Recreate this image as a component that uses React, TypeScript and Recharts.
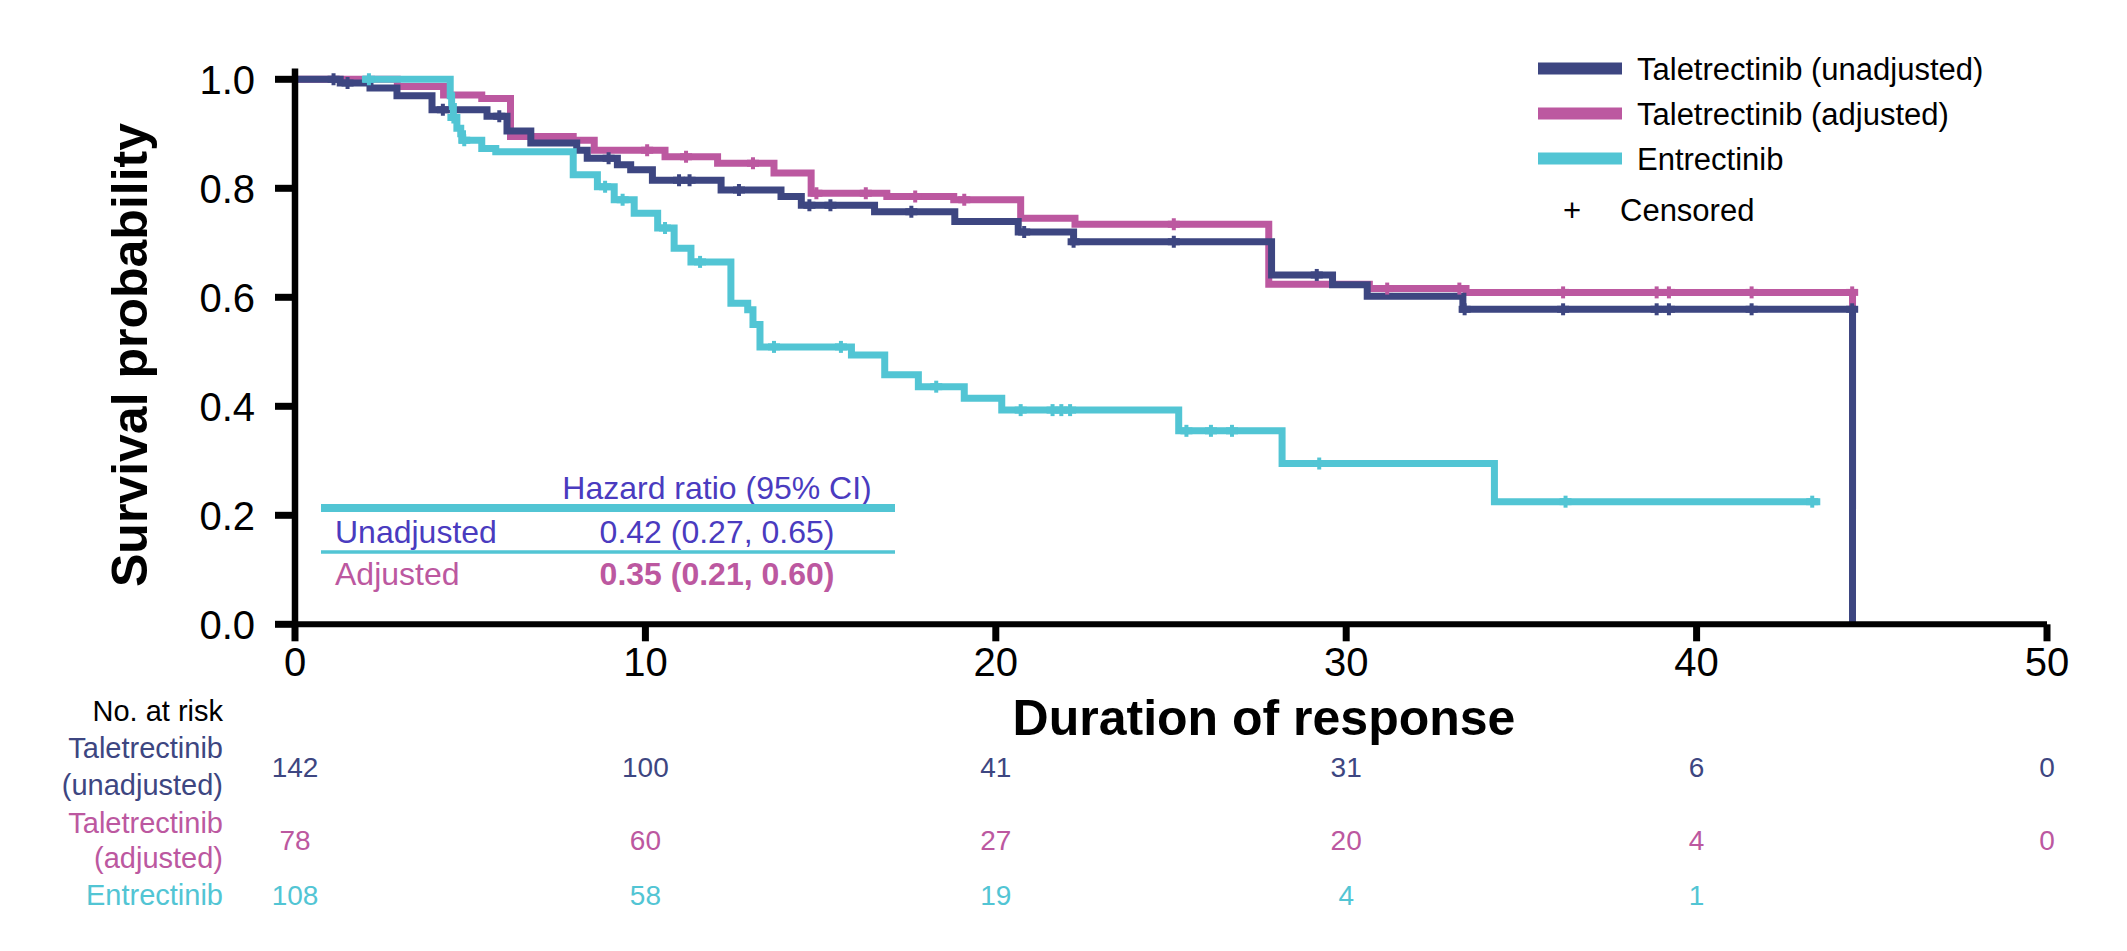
import React from "react";
import { ComposedChart, Line, Scatter, XAxis, YAxis } from "recharts";

// ---------- data ----------
const xTicks = [0, 10, 20, 30, 40, 50];
const yTicks = [0, 0.2, 0.4, 0.6, 0.8, 1.0];

// Taletrectinib (unadjusted)
const unadjT = [0, 1.29, 2.14, 2.91, 3.91, 5.48, 6.05, 6.73, 8.04, 8.34, 9.2, 9.58, 10.2, 12.16, 13.87, 14.45, 16.54, 18.83, 20.64, 22.22, 27.87, 29.61, 30.6, 33.33, 44.45];
const unadjS = [1.0, 0.993, 0.984, 0.97, 0.944, 0.932, 0.905, 0.883, 0.87, 0.855, 0.843, 0.834, 0.815, 0.797, 0.785, 0.769, 0.757, 0.739, 0.72, 0.702, 0.641, 0.623, 0.602, 0.578, 0];
const unadjCensor = [1.1, 1.5, 4.22, 5.83, 8.95, 10.96, 11.26, 12.67, 14.68, 15.28, 17.59, 20.81, 22.22, 25.08, 29.16, 33.38, 36.19, 38.86, 39.21, 41.57, 44.44];

// Taletrectinib (adjusted)
const adjT = [0, 2.92, 4.24, 5.33, 6.15, 7.94, 8.54, 10.56, 12.06, 13.67, 14.73, 16.89, 18.8, 20.71, 22.26, 27.79, 30.66, 33.42, 44.45];
const adjS = [1.0, 0.987, 0.971, 0.965, 0.895, 0.888, 0.87, 0.858, 0.846, 0.828, 0.791, 0.785, 0.779, 0.745, 0.734, 0.624, 0.616, 0.609, 0];
const adjCensor = [10.05, 11.16, 13.07, 14.88, 16.29, 17.7, 19.1, 25.08, 31.17, 33.23, 36.19, 38.86, 39.21, 41.57, 44.44];

// Entrectinib
const entT = [1.91, 4.43, 4.47, 4.52, 4.62, 4.73, 4.78, 5.33, 5.73, 7.94, 8.63, 9.11, 9.68, 10.35, 10.82, 11.3, 12.44, 12.92, 13.07, 13.27, 15.88, 16.83, 17.79, 19.1, 20.17, 25.22, 28.17, 34.23, 43.53];
const entS = [1.0, 0.97, 0.95, 0.93, 0.91, 0.9, 0.888, 0.873, 0.867, 0.825, 0.803, 0.779, 0.754, 0.727, 0.69, 0.665, 0.589, 0.577, 0.55, 0.509, 0.494, 0.458, 0.436, 0.415, 0.393, 0.355, 0.295, 0.225, 0.225];
const entCensor = [2.11, 4.52, 4.83, 8.85, 9.35, 10.56, 11.56, 13.67, 15.58, 18.3, 20.71, 21.62, 21.87, 22.12, 25.44, 26.14, 26.74, 29.23, 36.26, 43.3];

// numbers at risk (at xTicks)
const riskUnadj = ["142", "100", "41", "31", "6", "0"];
const riskAdj = ["78", "60", "27", "20", "4", "0"];
const riskEnt = ["108", "58", "19", "4", "1", ""];

const seriesNames = ["Taletrectinib (unadjusted)", "Taletrectinib (adjusted)", "Entrectinib"];

// ---------- styles ----------
const C_UNADJ = "#3d4681";
const C_ADJ = "#bc58a0";
const C_ENT = "#52c5d4";
const C_HR = "#4a3bbf";
const FONT = "'Liberation Sans', Arial, Helvetica, sans-serif";

const toPoints = (ts: number[], ss: number[]) => ts.map((t, i) => ({ t, s: ss[i] }));
const stepAt = (ts: number[], ss: number[], t: number) => {
  let v = ss[0];
  for (let i = 0; i < ts.length; i++) if (ts[i] <= t) v = ss[i];
  return v;
};
const censorPoints = (ts: number[], ss: number[], cs: number[]) => cs.map((t) => ({ t, s: stepAt(ts, ss, t) }));

const unadjData = toPoints(unadjT, unadjS);
const adjData = toPoints(adjT, adjS);
const entData = toPoints(entT, entS);
const unadjC = censorPoints(unadjT, unadjS, unadjCensor);
const adjC = censorPoints(adjT, adjS, adjCensor);
const entC = censorPoints(entT, entS, entCensor);

const censorShape = (color: string) => (props: any) => {
  const { cx, cy } = props;
  if (cx == null || cy == null) return <g />;
  return (
    <g>
      <line x1={cx} x2={cx} y1={cy - 6} y2={cy + 6} stroke={color} strokeWidth={4} />
      <line x1={cx - 6} x2={cx + 6} y1={cy} y2={cy} stroke={color} strokeWidth={7} />
    </g>
  );
};

const XTick = (props: any) => {
  const { x, y, payload } = props;
  const idx = xTicks.indexOf(payload.value);
  return (
    <g fontFamily={FONT}>
      <text x={x} y={y + 35} textAnchor="middle" fontSize={40} fill="#000">
        {payload.value}
      </text>
      <text x={x} y={y + 136} textAnchor="middle" fontSize={28} fill={C_UNADJ}>
        {riskUnadj[idx]}
      </text>
      <text x={x} y={y + 209} textAnchor="middle" fontSize={28} fill={C_ADJ}>
        {riskAdj[idx]}
      </text>
      <text x={x} y={y + 264} textAnchor="middle" fontSize={28} fill={C_ENT}>
        {riskEnt[idx]}
      </text>
    </g>
  );
};

export default function App() {
  return (
    <div style={{ position: "absolute", left: 0, top: 0, width: 2127, height: 951, background: "#fff", fontFamily: FONT }}>
      <ComposedChart
        width={2127}
        height={951}
        margin={{ top: 68.4, right: 80, bottom: 266.7, left: 0 }}
      >
        <XAxis
          type="number"
          dataKey="t"
          domain={[0, 50]}
          ticks={xTicks}
          allowDataOverflow
          height={60}
          tickSize={17}
          tickMargin={0}
          axisLine={{ stroke: "#000", strokeWidth: 6 }}
          tickLine={{ stroke: "#000", strokeWidth: 7 }}
          tick={<XTick />}
          interval={0}
        />
        <YAxis
          type="number"
          domain={[0, 1.02]}
          ticks={yTicks}
          allowDataOverflow
          width={295}
          tickSize={20}
          tickMargin={20}
          tickFormatter={(v: number) => v.toFixed(1)}
          axisLine={{ stroke: "#000", strokeWidth: 6.5 }}
          tickLine={{ stroke: "#000", strokeWidth: 7 }}
          tick={{ fontSize: 40, fill: "#000", fontFamily: FONT }}
          interval={0}
        />
        <Line data={adjData} dataKey="s" name={seriesNames[1]} type="stepAfter" stroke={C_ADJ} strokeWidth={7} dot={false} activeDot={false} isAnimationActive={false} strokeLinecap="butt" />
        <Scatter data={adjC} dataKey="s" isAnimationActive={false} shape={censorShape(C_ADJ)} />
        <Line data={unadjData} dataKey="s" name={seriesNames[0]} type="stepAfter" stroke={C_UNADJ} strokeWidth={7} dot={false} activeDot={false} isAnimationActive={false} strokeLinecap="butt" />
        <Scatter data={unadjC} dataKey="s" isAnimationActive={false} shape={censorShape(C_UNADJ)} />
        <Line data={entData} dataKey="s" name={seriesNames[2]} type="stepAfter" stroke={C_ENT} strokeWidth={7} dot={false} activeDot={false} isAnimationActive={false} strokeLinecap="butt" />
        <Scatter data={entC} dataKey="s" isAnimationActive={false} shape={censorShape(C_ENT)} />
      </ComposedChart>

      <svg
        width={2127}
        height={951}
        style={{ position: "absolute", left: 0, top: 0, pointerEvents: "none" }}
        fontFamily={FONT}
      >
        {/* axis titles */}
        <text x={130} y={355} transform="rotate(-90 130 355)" textAnchor="middle" dominantBaseline="central" fontSize={50} fontWeight="bold" fill="#000">
          Survival probability
        </text>
        <text x={1264} y={718} textAnchor="middle" dominantBaseline="central" fontSize={50} fontWeight="bold" fill="#000">
          Duration of response
        </text>

        {/* legend */}
        {[C_UNADJ, C_ADJ, C_ENT].map((c, i) => (
          <g key={i}>
            <rect x={1538} y={68.5 + i * 45 - 6} width={84} height={12} fill={c} />
            <text x={1637} y={68.5 + i * 45 + 11} fontSize={31} fill="#000">
              {seriesNames[i]}
            </text>
          </g>
        ))}
        <text x={1572} y={221} textAnchor="middle" fontSize={31} fill="#000">+</text>
        <text x={1620} y={221} fontSize={31} fill="#000">Censored</text>

        {/* hazard ratio table */}
        <text x={717} y={499} textAnchor="middle" fontSize={32} fill={C_HR}>Hazard ratio (95% CI)</text>
        <line x1={321} x2={895} y1={508} y2={508} stroke={C_ENT} strokeWidth={8} />
        <text x={335} y={543} fontSize={32} fill={C_HR}>Unadjusted</text>
        <text x={717} y={543} textAnchor="middle" fontSize={32} fill={C_HR}>0.42 (0.27, 0.65)</text>
        <line x1={321} x2={895} y1={552} y2={552} stroke={C_ENT} strokeWidth={3.5} />
        <text x={335} y={585} fontSize={32} fill={C_ADJ}>Adjusted</text>
        <text x={717} y={585} textAnchor="middle" fontSize={32} fontWeight="bold" fill={C_ADJ}>0.35 (0.21, 0.60)</text>

        {/* risk table labels */}
        <text x={223} y={721} textAnchor="end" fontSize={29} fill="#000">No. at risk</text>
        <text x={223} y={758} textAnchor="end" fontSize={29} fill={C_UNADJ}>Taletrectinib</text>
        <text x={223} y={795} textAnchor="end" fontSize={29} fill={C_UNADJ}>(unadjusted)</text>
        <text x={223} y={833} textAnchor="end" fontSize={29} fill={C_ADJ}>Taletrectinib</text>
        <text x={223} y={868} textAnchor="end" fontSize={29} fill={C_ADJ}>(adjusted)</text>
        <text x={223} y={905} textAnchor="end" fontSize={29} fill={C_ENT}>Entrectinib</text>
      </svg>
    </div>
  );
}
